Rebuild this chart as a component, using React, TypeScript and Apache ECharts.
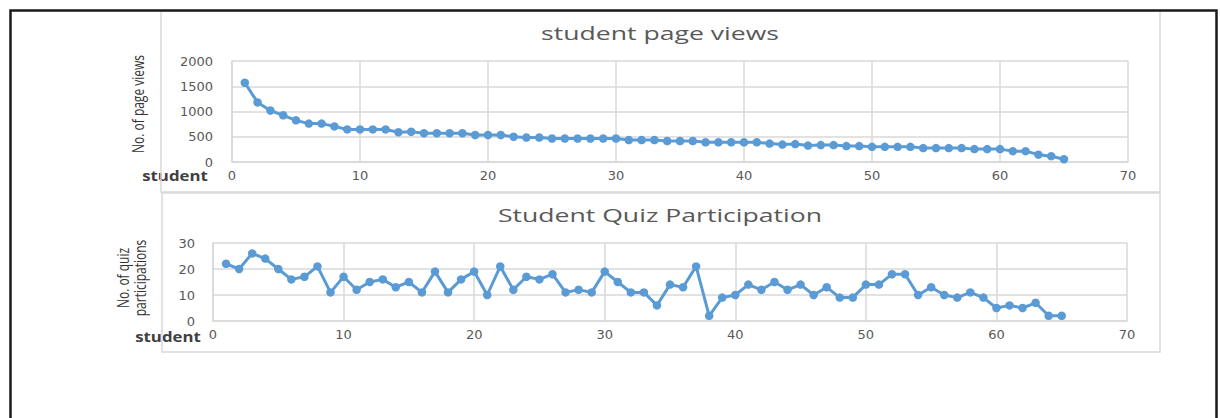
import { useEffect, useRef } from "react";
import * as echarts from "echarts";

const studentIds = [
  1, 2, 3, 4, 5, 6, 7, 8, 9, 10, 11, 12, 13, 14, 15, 16, 17, 18, 19, 20,
  21, 22, 23, 24, 25, 26, 27, 28, 29, 30, 31, 32, 33, 34, 35, 36, 37, 38, 39, 40,
  41, 42, 43, 44, 45, 46, 47, 48, 49, 50, 51, 52, 53, 54, 55, 56, 57, 58, 59, 60,
  61, 62, 63, 64, 65,
];

const pageViews = [
  1570, 1180, 1020, 925, 825, 760, 760, 705, 645, 645, 645, 645, 590, 600, 570, 570, 570, 570, 535, 535,
  535, 500, 485, 485, 465, 465, 465, 465, 465, 465, 435, 435, 435, 415, 415, 415, 390, 390, 390, 390,
  390, 365, 345, 355, 325, 335, 335, 315, 315, 300, 300, 300, 300, 275, 275, 275, 275, 255, 255, 255,
  215, 215, 145, 115, 55,
];

const quizParticipation = [
  22, 20, 26, 24, 20, 16, 17, 21, 11, 17, 12, 15, 16, 13, 15, 11, 19, 11, 16, 19,
  10, 21, 12, 17, 16, 18, 11, 12, 11, 19, 15, 11, 11, 6, 14, 13, 21, 2, 9, 10,
  14, 12, 15, 12, 14, 10, 13, 9, 9, 14, 14, 18, 18, 10, 13, 10, 9, 11, 9, 5,
  6, 5, 7, 2, 2,
];

const titles = ["student page views", "Student Quiz Participation"];
const yNames = ["No. of page views", "No. of quiz", "participations"];
const xName = "student";

const BLUE = "#5B9BD5";
const GRID = "#D9D9D9";
const LABEL = "#595959";

export default function App() {
  const ref = useRef<HTMLDivElement>(null);

  useEffect(() => {
    if (!ref.current) return;
    const chart = echarts.init(ref.current, undefined, { renderer: "svg" });

    const axisLabel = (margin: number) => ({
      color: LABEL,
      fontFamily: "DejaVu Sans",
      fontSize: 13,
      margin,
      formatter: (v: number) => String(v),
    });

    const xAxisBase = {
      type: "value" as const,
      min: 0,
      max: 70,
      interval: 10,
      axisLine: { show: true, lineStyle: { color: GRID, width: 1.5 } },
      axisTick: { show: false },
      splitLine: { show: true, lineStyle: { color: GRID, width: 1.5 } },
    };
    const yAxisBase = {
      type: "value" as const,
      axisLine: { show: true, lineStyle: { color: GRID, width: 1.5 } },
      axisTick: { show: false },
      splitLine: { show: true, lineStyle: { color: GRID, width: 1.5 } },
    };

    const seriesBase = {
      type: "line" as const,
      symbol: "circle",
      symbolSize: 8.5,
      showAllSymbol: true,
      lineStyle: { color: BLUE, width: 3 },
      itemStyle: { color: BLUE },
      emphasis: { disabled: true },
    };

    const titleStyle = {
      fill: "#595959",
      fontFamily: "Open Sans",
      fontSize: 19,
      align: "center",
      verticalAlign: "middle",
    };

    const yNameStyle = {
      fill: "#333333",
      fontFamily: "Open Sans",
      fontSize: 12,
      align: "center",
      verticalAlign: "middle",
    };

    const xNameStyle = {
      text: xName,
      fill: "#404040",
      fontFamily: "Open Sans",
      fontWeight: "bold",
      fontSize: 14,
      align: "center",
      verticalAlign: "middle",
    };

    chart.setOption({
      animation: false,
      backgroundColor: "#ffffff",
      grid: [
        { left: 232, width: 896, top: 61, height: 101 },
        { left: 213, width: 914, top: 243, height: 78 },
      ],
      xAxis: [
        { ...xAxisBase, gridIndex: 0, axisLabel: axisLabel(7) },
        { ...xAxisBase, gridIndex: 1, axisLabel: axisLabel(7) },
      ],
      yAxis: [
        { ...yAxisBase, gridIndex: 0, min: 0, max: 2000, interval: 500, axisLabel: axisLabel(19) },
        { ...yAxisBase, gridIndex: 1, min: 0, max: 30, interval: 10, axisLabel: axisLabel(18) },
      ],
      series: [
        {
          ...seriesBase,
          xAxisIndex: 0,
          yAxisIndex: 0,
          data: studentIds.map((s, i) => [s, pageViews[i]]),
        },
        {
          ...seriesBase,
          xAxisIndex: 1,
          yAxisIndex: 1,
          data: studentIds.map((s, i) => [s, quizParticipation[i]]),
        },
      ],
      graphic: [
        {
          type: "polyline",
          shape: { points: [[10.5, 420], [10.5, 10.5], [1216.5, 10.5], [1216.5, 420]] },
          style: { stroke: "#1a1a1a", lineWidth: 2.5, fill: "none" },
          z: 10,
        },
        {
          type: "rect",
          shape: { x: 161, y: 11, width: 999, height: 181 },
          style: { stroke: GRID, lineWidth: 1.5, fill: "none" },
          z: 1,
        },
        {
          type: "rect",
          shape: { x: 162, y: 193, width: 998, height: 159 },
          style: { stroke: GRID, lineWidth: 1.5, fill: "none" },
          z: 1,
        },
        { type: "text", x: 660, y: 33, scaleX: 1.4, style: { ...titleStyle, text: titles[0] } },
        { type: "text", x: 660, y: 215, scaleX: 1.4, style: { ...titleStyle, text: titles[1] } },
        { type: "text", x: 175, y: 176, scaleX: 1.2, style: xNameStyle },
        { type: "text", x: 168, y: 337, scaleX: 1.2, style: xNameStyle },
        {
          type: "text",
          x: 137,
          y: 104,
          rotation: Math.PI / 2,
          scaleY: 1.4,
          style: { ...yNameStyle, text: yNames[0] },
        },
        {
          type: "text",
          x: 122,
          y: 278,
          rotation: Math.PI / 2,
          scaleY: 1.4,
          style: { ...yNameStyle, text: yNames[1] },
        },
        {
          type: "text",
          x: 139,
          y: 278,
          rotation: Math.PI / 2,
          scaleY: 1.4,
          style: { ...yNameStyle, text: yNames[2] },
        },
      ],
    });

    return () => chart.dispose();
  }, []);

  return (
    <div
      ref={ref}
      style={{ position: "absolute", left: 0, top: 0, width: 1220, height: 418, background: "#fff" }}
    />
  );
}
